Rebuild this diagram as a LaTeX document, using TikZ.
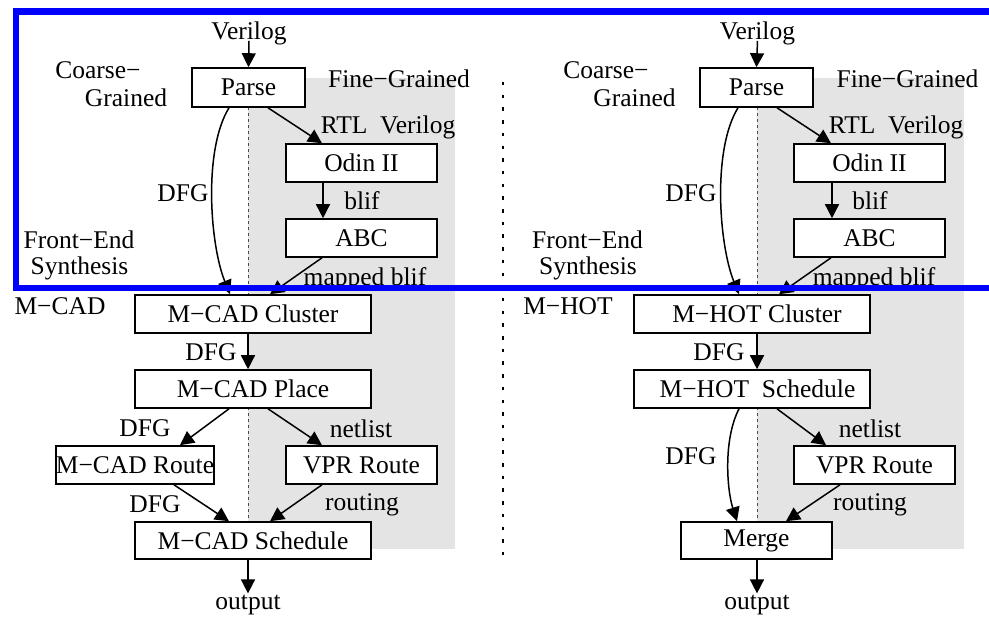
\documentclass[tikz,border=0pt]{standalone}
\usepackage{fontspec}
\setmainfont{Liberation Serif}
\usetikzlibrary{arrows.meta}
\definecolor{finegray}{RGB}{228,228,228}
\definecolor{frameblue}{RGB}{0,0,255}
\begin{document}
\begin{tikzpicture}[x=1pt,y=-1pt,
  every node/.style={font=\fontsize{25.5}{27}\selectfont, inner sep=0pt},
  stage/.style={draw, fill=white, line width=1.6pt, minimum height=38pt},
  flow/.style={line width=1.5pt, -{Triangle[length=14pt,width=14pt]}},
  finesplit/.style={draw=black!70, line width=0.8pt, dash pattern=on 3pt off 3pt},
  stagesplit/.style={draw=black!75, line width=1pt, dash pattern=on 2pt off 4.5pt},
  flowsplit/.style={line width=1.6pt, dash pattern=on 3.5pt off 9.2pt},
  lbl/.style={anchor=center}]
\useasboundingbox (0,0) rectangle (989,618);

% ---------- fine-grained shaded regions ----------
\fill[finegray] (248,78) rectangle (455,549);
\fill[finegray] (757,78) rectangle (964,549);
\draw[finesplit] (248,107) -- (248,549);
\draw[finesplit] (757,107) -- (757,549);

% front-end / back-end boundary
\draw[stagesplit] (28,285) -- (450,285);
\draw[stagesplit] (527,285) -- (957,285);

% separator between the two flows
\draw[flowsplit] (503,82) -- (503,562);

% ================= M-CAD flow =================
\node[lbl] (verL) at (249,33) {Verilog};
\node[stage, minimum width=113pt, minimum height=39pt] (parseL) at (248.5,87.5) {Parse};
\node[stage, minimum width=151pt] (odinL) at (361.5,163) {Odin II};
\node[stage, minimum width=151pt] (abcL) at (361.5,238) {ABC};
\node[stage, minimum width=236pt] (clusterL) at (253,314) {M−CAD Cluster};
\node[stage, minimum width=236pt] (placeL) at (253,389) {M−CAD Place};
\node[stage, minimum width=152pt] (mrouteL) at (135,465) {M−CAD Route};
\node[stage, minimum width=151pt] (vprL) at (361.5,465) {VPR Route};
\node[stage, minimum width=236pt, minimum height=37pt] (schedL) at (253,540.5) {M−CAD Schedule};
\node[lbl] (outL) at (248,605.5) {output};

\node[lbl] (coarseL) at (98,70) {Coarse−};
\node[lbl] (coarseL2) at (126,98) {Grained};
\node[lbl] (fineL) at (399,79) {Fine−Grained};
\node[lbl] (rtlL) at (388,127) {RTL\ \ Verilog};
\node[lbl] (blifL) at (362,201) {blif};
\node[lbl] (mappedL) at (365,279) {mapped blif};
\node[lbl] (dfgL1) at (183,193) {DFG};
\node[lbl] (feL) at (79,240) {Front−End};
\node[lbl] (feL2) at (79.5,268) {Synthesis};
\node[lbl] (mcad) at (60,306) {M−CAD};
\node[lbl] (dfgL2) at (211,352) {DFG};
\node[lbl] (dfgL3) at (145,428) {DFG};
\node[lbl] (netL) at (361,429) {netlist};
\node[lbl] (dfgL4) at (155,504) {DFG};
\node[lbl] (routL) at (362,505) {routing};

\draw[flow] ([yshift=4pt]verL.south) -- (parseL.north);
\draw[flow] ([xshift=19.5pt]parseL.south) -- ([xshift=-39.5pt]odinL.north);
\draw[flow] ([xshift=-38.5pt]odinL.south) -- ([xshift=-38.5pt]abcL.north);
\draw[flow] ([xshift=-39.5pt]abcL.south) -- ([xshift=17pt]clusterL.north);
\draw[flow] ([xshift=-19.5pt]parseL.south) .. controls (203,150) and (210,245) .. ([xshift=-23pt]clusterL.north);
\draw[flow] ([xshift=-5pt]clusterL.south) -- ([xshift=-5pt]placeL.north);
\draw[flow] ([xshift=-24pt]placeL.south) -- ([xshift=45pt]mrouteL.north);
\draw[flow] ([xshift=15pt]placeL.south) -- ([xshift=-39.5pt]vprL.north);
\draw[flow] ([xshift=39pt]mrouteL.south) -- ([xshift=-24pt]schedL.north);
\draw[flow] ([xshift=-39.5pt]vprL.south) -- ([xshift=17pt]schedL.north);
\draw[flow] ([xshift=-5pt]schedL.south) -- ([yshift=2pt]outL.north);

% ================= M-HOT flow =================
\node[lbl] (verR) at (757.5,33) {Verilog};
\node[stage, minimum width=113pt, minimum height=39pt] (parseR) at (756.5,87.5) {Parse};
\node[stage, minimum width=151pt] (odinR) at (869.5,163) {Odin II};
\node[stage, minimum width=151pt] (abcR) at (869.5,238) {ABC};
\node[stage, minimum width=236pt] (clusterR) at (752,314) {\hspace*{10pt}M−HOT Cluster};
\node[stage, minimum width=236pt] (schedR) at (752,389) {\hspace*{11pt}M−HOT\ \ Schedule};
\node[stage, minimum width=161pt] (vprR) at (874.5,465) {VPR Route};
\node[stage, minimum width=151pt, minimum height=37pt] (mergeR) at (756.5,540.5) {Merge};
\node[lbl] (outR) at (757,605.5) {output};

\node[lbl] (coarseR) at (606,70) {Coarse−};
\node[lbl] (coarseR2) at (634.5,98) {Grained};
\node[lbl] (fineR) at (907.5,79) {Fine−Grained};
\node[lbl] (rtlR) at (896,127) {RTL\ \ Verilog};
\node[lbl] (blifR) at (870,201) {blif};
\node[lbl] (mappedR) at (874,279) {mapped blif};
\node[lbl] (dfgR1) at (691,193) {DFG};
\node[lbl] (feR) at (587.5,240) {Front−End};
\node[lbl] (feR2) at (588,268) {Synthesis};
\node[lbl] (mhot) at (568,306) {M−HOT};
\node[lbl] (dfgR2) at (719,352) {DFG};
\node[lbl] (netR) at (870,429) {netlist};
\node[lbl] (dfgR3) at (691,456) {DFG};
\node[lbl] (routR) at (870,505) {routing};

\draw[flow] ([yshift=4pt]verR.south) -- (parseR.north);
\draw[flow] ([xshift=20.5pt]parseR.south) -- ([xshift=-38.5pt]odinR.north);
\draw[flow] ([xshift=-37.5pt]odinR.south) -- ([xshift=-37.5pt]abcR.north);
\draw[flow] ([xshift=-38.5pt]abcR.south) -- ([xshift=27pt]clusterR.north);
\draw[flow] ([xshift=-18.5pt]parseR.south) .. controls (712,150) and (719,245) .. ([xshift=-13pt]clusterR.north);
\draw[flow] ([xshift=5pt]clusterR.south) -- ([xshift=5pt]schedR.north);
\draw[flow] ([xshift=25pt]schedR.south) -- ([xshift=-48.5pt]vprR.north);
\draw[flow] ([xshift=-34.5pt]vprR.south) -- ([xshift=29.5pt]mergeR.north);
\draw[flow] ([xshift=-13pt]schedR.south) .. controls (723,440) and (727,490) .. ([xshift=-19.5pt]mergeR.north);
\draw[flow] ([xshift=0.5pt]mergeR.south) -- ([yshift=2pt]outR.north);

% ---------- front-end frame ----------
\draw[frameblue, line width=6.5pt] (16,11.5) rectangle (1000,288);
\end{tikzpicture}
\end{document}
